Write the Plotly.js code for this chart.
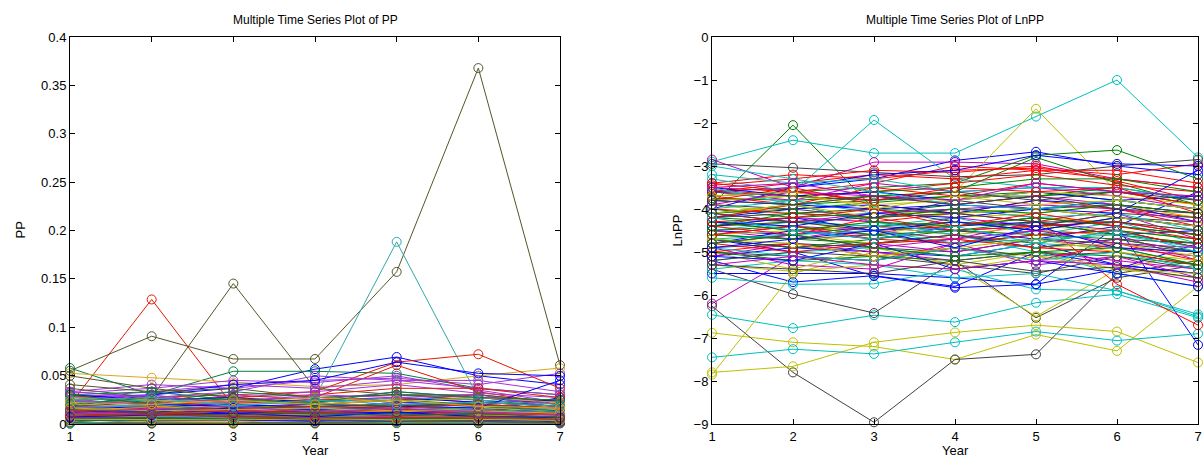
<!DOCTYPE html>
<html>
<head>
<meta charset="utf-8">
<script src="https://cdn.plot.ly/plotly-3.0.1.min.js"></script>
<style>
html,body{margin:0;padding:0;background:#fff;}
#chart{width:1204px;height:459px;}
</style>
</head>
<body>
<div id="chart"></div>
<script>
// Years (x axis)
const years = [1, 2, 3, 4, 5, 6, 7];

// LnPP values per year, one entry per series (series index is the same in every array)
const lnY1 = [
  -3.60,-3.90,-3.40,-2.90,-2.85,-4.20,-2.95,
  -5.50,-3.70,-3.50,-3.30,-6.20,-6.88,-6.26,
  -4.50,-3.75,-3.45,-6.46,-4.30,-7.80,-5.40,
  -5.20,-4.10,-3.60,-7.45,-4.60,-7.85,-4.90,
  -5.10,-4.00,-3.55,-5.60,-4.50,-4.40,-5.00,
  -4.70,-4.10,-3.70,-5.20,-4.40,-4.30,-5.20,
  -4.00,-3.80,-4.00,-5.40,-4.90,-4.60,-4.60,
  -4.80,-4.20,-3.80,-4.50,-3.60,-5.00,-4.40,
  -4.20,-4.50,-4.20,-3.20,-4.70,-3.90,-3.90,
  -3.50,-4.60,-4.40,-4.00,-5.10,-3.80,-4.20,
  -4.40,-4.70,-4.60,-4.70,-4.10,-5.30,-3.60,
  -3.80,-5.00,-5.00,-3.50,-3.90,-4.80,-4.70,
  -5.10,-4.30,-4.80,-4.90,-5.30,-4.10,-5.30,
  -4.30,-4.40,-3.40,-3.00,-4.80,-4.70,-4.10,
  -4.90,-4.80,-4.30,-4.20,-3.50,-3.70,-3.80];
const lnY2 = [
  -3.50,-2.05,-3.20,-2.40,-3.50,-3.90,-3.04,
  -5.50,-3.60,-3.60,-3.60,-5.10,-7.10,-7.80,
  -4.60,-3.80,-3.30,-6.77,-4.50,-7.66,-5.98,
  -5.70,-3.90,-3.40,-7.26,-4.40,-5.50,-4.80,
  -4.90,-4.20,-3.70,-5.75,-4.70,-4.30,-5.10,
  -5.00,-4.00,-3.90,-5.00,-4.20,-4.40,-5.00,
  -3.50,-3.70,-4.10,-5.20,-5.30,-4.50,-4.70,
  -4.50,-4.30,-3.50,-4.30,-3.80,-5.40,-4.30,
  -4.00,-4.40,-3.90,-3.40,-4.90,-4.10,-4.00,
  -3.70,-4.70,-4.60,-3.80,-4.80,-3.70,-4.10,
  -4.20,-4.90,-4.40,-4.60,-4.30,-5.45,-3.70,
  -3.90,-5.20,-4.80,-3.90,-3.60,-4.60,-4.90,
  -5.20,-4.50,-5.00,-5.10,-5.10,-3.90,-5.40,
  -4.40,-4.10,-3.60,-3.30,-4.60,-4.80,-4.30,
  -4.70,-4.60,-4.20,-4.50,-3.40,-3.60,-3.90];
const lnY3 = [
  -3.30,-4.00,-3.30,-2.70,-2.91,-3.70,-3.15,
  -5.50,-3.50,-3.40,-1.93,-5.20,-7.20,-8.96,
  -4.40,-3.70,-3.10,-6.47,-4.60,-7.10,-6.42,
  -5.55,-3.80,-3.20,-7.37,-4.50,-5.00,-4.90,
  -5.00,-4.10,-3.60,-5.74,-4.40,-4.50,-5.20,
  -5.56,-3.85,-3.50,-4.90,-4.30,-4.60,-5.10,
  -3.20,-3.60,-4.20,-5.30,-5.40,-4.40,-4.60,
  -4.70,-4.40,-3.90,-4.40,-3.40,-4.90,-4.50,
  -3.90,-4.60,-4.30,-3.30,-4.80,-4.00,-4.20,
  -3.60,-4.80,-4.20,-4.10,-5.00,-3.90,-4.00,
  -4.50,-4.70,-4.70,-4.50,-4.10,-5.30,-3.80,
  -4.00,-5.10,-5.10,-4.30,-3.70,-4.80,-4.80,
  -4.80,-4.30,-4.80,-5.20,-5.30,-4.20,-5.50,
  -4.10,-4.20,-3.80,-3.60,-4.90,-5.10,-4.20,
  -4.50,-4.90,-4.00,-4.70,-3.70,-4.00,-3.70];
const lnY4 = [
  -2.87,-4.10,-3.10,-2.70,-2.91,-3.60,-3.25,
  -5.60,-3.40,-3.00,-3.30,-4.80,-7.50,-7.50,
  -4.50,-3.60,-3.15,-6.63,-4.20,-6.87,-5.20,
  -5.80,-3.70,-3.30,-7.10,-4.70,-5.30,-5.00,
  -5.10,-3.90,-3.40,-5.40,-4.60,-4.40,-4.90,
  -5.83,-3.70,-3.70,-5.10,-4.50,-4.30,-5.30,
  -3.10,-3.50,-4.00,-5.60,-4.80,-4.60,-4.80,
  -4.40,-4.30,-4.10,-4.20,-3.60,-5.30,-4.40,
  -4.10,-4.50,-4.10,-3.60,-5.00,-4.20,-3.80,
  -3.80,-4.60,-4.50,-4.00,-5.20,-3.80,-4.30,
  -4.30,-4.50,-4.80,-4.80,-4.00,-5.40,-3.60,
  -3.90,-5.20,-4.90,-4.60,-3.90,-4.70,-4.60,
  -5.40,-4.40,-4.70,-4.90,-5.40,-4.10,-5.20,
  -4.20,-4.00,-3.50,-3.90,-4.70,-4.90,-4.10,
  -4.90,-5.10,-4.40,-4.40,-3.80,-3.70,-3.90];
const lnY5 = [
  -2.67,-4.00,-3.05,-1.85,-2.95,-1.67,-3.20,
  -5.75,-2.75,-3.10,-3.50,-4.50,-6.92,-7.38,
  -4.70,-2.80,-3.00,-6.18,-4.40,-6.70,-6.53,
  -5.00,-3.60,-3.10,-6.85,-4.30,-6.50,-4.70,
  -4.80,-3.70,-3.20,-5.87,-4.90,-4.20,-5.10,
  -5.75,-3.70,-3.40,-4.80,-4.40,-4.50,-5.50,
  -2.75,-3.30,-4.20,-5.50,-5.30,-4.40,-4.60,
  -4.30,-4.50,-3.80,-4.60,-3.50,-5.00,-4.20,
  -3.80,-4.30,-4.30,-3.50,-4.70,-4.10,-4.00,
  -3.60,-4.80,-4.40,-4.20,-5.00,-3.60,-4.40,
  -4.50,-4.60,-4.60,-4.70,-3.90,-5.10,-3.80,
  -4.00,-5.00,-5.20,-5.00,-3.70,-4.90,-4.90,
  -5.20,-4.20,-4.90,-5.20,-5.20,-4.00,-5.45,
  -4.00,-4.10,-3.60,-4.00,-4.50,-4.70,-4.30,
  -4.40,-5.00,-4.10,-4.80,-3.40,-3.90,-3.70];
const lnY6 = [
  -3.00,-3.90,-3.20,-1.00,-3.30,-3.60,-3.00,
  -4.40,-2.63,-3.30,-3.60,-4.60,-7.30,-5.50,
  -4.40,-3.40,-3.35,-5.98,-4.10,-6.85,-5.60,
  -5.30,-3.80,-3.10,-7.06,-4.50,-5.40,-4.80,
  -5.30,-3.50,-3.45,-5.90,-4.70,-4.30,-5.00,
  -5.40,-3.60,-3.60,-4.90,-4.30,-4.60,-5.10,
  -2.95,-3.30,-5.75,-5.90,-5.10,-4.50,-4.50,
  -4.60,-4.20,-4.00,-4.30,-3.70,-5.40,-4.40,
  -3.90,-4.60,-4.00,-3.50,-4.90,-3.90,-4.20,
  -3.80,-4.50,-4.30,-4.10,-5.20,-3.70,-4.10,
  -4.20,-4.70,-4.50,-4.60,-4.00,-5.40,-3.60,
  -3.80,-5.10,-4.80,-5.50,-3.90,-4.80,-4.70,
  -5.50,-4.40,-5.00,-5.00,-5.30,-4.20,-5.35,
  -4.10,-3.90,-3.50,-3.80,-4.80,-5.00,-4.30,
  -4.90,-4.90,-4.40,-4.50,-3.60,-3.80,-4.00];
const lnY7 = [
  -3.20,-4.10,-2.95,-2.80,-3.50,-3.90,-2.85,
  -3.60,-3.30,-3.50,-3.70,-5.20,-5.80,-5.20,
  -7.16,-3.90,-3.80,-6.53,-4.70,-7.57,-5.30,
  -5.50,-4.00,-3.40,-6.90,-4.90,-5.00,-5.00,
  -5.50,-3.80,-3.60,-6.45,-5.00,-4.50,-5.30,
  -4.80,-3.90,-3.90,-5.30,-4.60,-4.80,-5.40,
  -3.00,-3.60,-6.70,-6.50,-5.60,-4.70,-4.90,
  -4.50,-4.40,-4.20,-4.80,-4.00,-5.60,-4.60,
  -4.30,-4.80,-4.40,-3.80,-5.10,-4.20,-4.30,
  -3.70,-4.70,-4.60,-4.50,-5.40,-3.90,-4.20,
  -4.40,-5.00,-4.90,-4.90,-4.30,-5.50,-3.80,
  -4.00,-5.30,-5.20,-5.80,-4.10,-5.10,-4.80,
  -5.80,-4.60,-5.30,-5.40,-5.70,-4.40,-5.60,
  -3.10,-4.10,-4.10,-4.00,-4.90,-5.20,-4.50,
  -5.00,-5.30,-4.70,-5.00,-3.70,-4.00,-4.10];

// Axis ticks
const ppTicks = [0, 0.05, 0.1, 0.15, 0.2, 0.25, 0.3, 0.35, 0.4];
const ppTickText = ['0', '0.05', '0.1', '0.15', '0.2', '0.25', '0.3', '0.35', '0.4'];
const lnTicks = [-9, -8, -7, -6, -5, -4, -3, -2, -1, 0];
const lnTickText = ['\u22129', '\u22128', '\u22127', '\u22126', '\u22125', '\u22124', '\u22123', '\u22122', '\u22121', '0'];

// Colour cycles
const leftColors = ['#0000FF', '#E01A00', '#A035D8', '#55552A', '#008040', '#30A8A8', '#D8A81C'];
const rightColors = ['#0000FF', '#008000', '#FF0000', '#00BFBF', '#BF00BF', '#BFBF00', '#404040'];

const lnCols = [lnY1, lnY2, lnY3, lnY4, lnY5, lnY6, lnY7];
const nSeries = lnY1.length;
const traces = [];
for (let i = 0; i < nSeries; i++) {
  const ln = lnCols.map(c => c[i]);
  const pp = ln.map(v => Math.exp(v)); // PP = exp(LnPP)
  const lc = leftColors[i % 7];
  traces.push({
    x: years, y: pp, xaxis: 'x', yaxis: 'y', type: 'scatter', mode: 'lines+markers',
    line: {color: lc, width: 1}, cliponaxis: false,
    marker: {symbol: 'circle-open', size: 9, color: lc, line: {width: 1, color: lc}},
    showlegend: false, hoverinfo: 'skip'
  });
}
for (let i = 0; i < nSeries; i++) {
  const ln = lnCols.map(c => c[i]);
  const rc = rightColors[i % 7];
  traces.push({
    x: years, y: ln, xaxis: 'x2', yaxis: 'y2', type: 'scatter', mode: 'lines+markers',
    line: {color: rc, width: 1}, cliponaxis: false,
    marker: {symbol: 'circle-open', size: 9, color: rc, line: {width: 1, color: rc}},
    showlegend: false, hoverinfo: 'skip'
  });
}

const FONT = 'Liberation Sans, Arial, Helvetica, sans-serif';
const axBase = {
  showline: true, linecolor: '#000', linewidth: 1, mirror: 'ticks',
  ticks: 'inside', ticklen: 5, tickwidth: 1, tickcolor: '#000',
  showgrid: false, zeroline: false, fixedrange: true, ticklabeloverflow: 'allow',
  tickfont: {family: FONT, size: 13, color: '#000'}
};
const ML = 70, MR = 6;
const W = 1204 - ML - MR, H = 387;
const rightStart = 712 - ML;
const rightCenter = (rightStart + W) / 2;
const layout = {
  width: 1204, height: 459,
  margin: {l: ML, r: MR, t: 37, b: 35, pad: 0},
  paper_bgcolor: '#fff', plot_bgcolor: '#fff',
  font: {family: FONT, color: '#000'},
  showlegend: false,
  xaxis: Object.assign({}, axBase, {domain: [0, 490 / W], range: [1, 7], tickvals: years, ticktext: years.map(String), anchor: 'y'}),
  yaxis: Object.assign({}, axBase, {domain: [0, 1], range: [0, 0.4], tickvals: ppTicks, ticktext: ppTickText, anchor: 'x'}),
  xaxis2: Object.assign({}, axBase, {domain: [rightStart / W, 1], range: [1, 7], tickvals: years, ticktext: years.map(String), anchor: 'y2'}),
  yaxis2: Object.assign({}, axBase, {domain: [0, 1], range: [-9, 0], tickvals: lnTicks, ticktext: lnTickText, anchor: 'x2'}),
  annotations: [
    {text: 'Multiple Time Series Plot of PP', xref: 'paper', yref: 'paper', x: 245 / W, y: (424 - 20) / H, xanchor: 'center', yanchor: 'middle', showarrow: false, font: {family: FONT, size: 12}},
    {text: 'Multiple Time Series Plot of LnPP', xref: 'paper', yref: 'paper', x: rightCenter / W, y: (424 - 20) / H, xanchor: 'center', yanchor: 'middle', showarrow: false, font: {family: FONT, size: 12}},
    {text: 'Year', xref: 'paper', yref: 'paper', x: 245 / W, y: (424 - 450) / H, xanchor: 'center', yanchor: 'middle', showarrow: false, font: {family: FONT, size: 13}},
    {text: 'Year', xref: 'paper', yref: 'paper', x: rightCenter / W, y: (424 - 450) / H, xanchor: 'center', yanchor: 'middle', showarrow: false, font: {family: FONT, size: 13}},
    {text: 'PP', xref: 'paper', yref: 'paper', x: (20 - ML) / W, y: 0.5, xanchor: 'center', yanchor: 'middle', textangle: -90, showarrow: false, font: {family: FONT, size: 13}},
    {text: 'LnPP', xref: 'paper', yref: 'paper', x: (677 - ML) / W, y: 0.5, xanchor: 'center', yanchor: 'middle', textangle: -90, showarrow: false, font: {family: FONT, size: 13}}
  ]
};
Plotly.newPlot('chart', traces, layout, {staticPlot: true, displayModeBar: false});
</script>
</body>
</html>
